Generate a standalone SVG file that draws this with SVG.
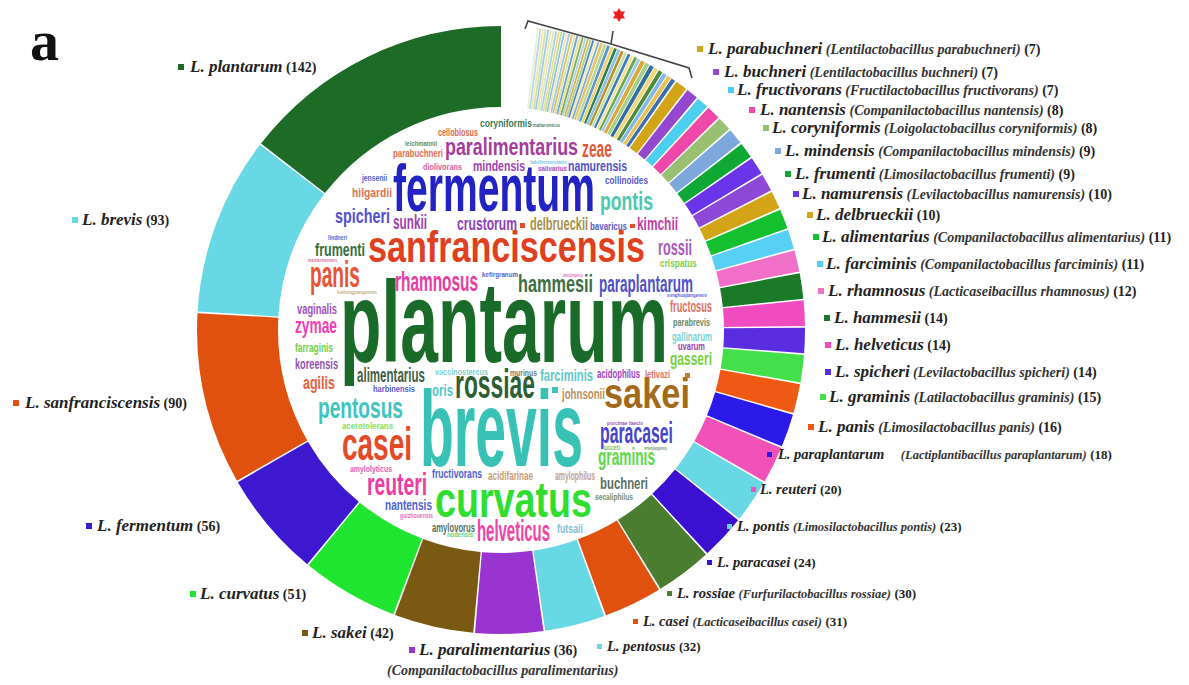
<svg xmlns="http://www.w3.org/2000/svg" width="1189" height="685" viewBox="0 0 1189 685">
<style>
.ring circle{fill:none;stroke-width:81}
.st circle{fill:none;stroke-width:81}
.ga{stroke-dasharray:3.6 2000}
.gb{stroke-dasharray:2.5 2000}
.gc{stroke-dasharray:1.8 2000}
.gd{stroke-dasharray:1.7 2000}
.w{font-family:"Liberation Sans",Arial,sans-serif;font-weight:bold}
.lg{font-family:"Liberation Serif","Times New Roman",serif;fill:#222;font-size:14px}
.sp{font-size:17px;font-weight:bold;font-style:italic}
.gn{font-size:14px;font-weight:bold;font-style:italic;fill:#333}
.ct{font-size:14px;font-weight:bold}
.sp2{font-size:14.5px;font-weight:bold;font-style:italic}
.gn2{font-size:12.5px;font-weight:bold;font-style:italic;fill:#333}
.ct2{font-size:13px;font-weight:bold}
</style>
<rect width="1189" height="685" fill="#fff"/>
<text x="30" y="60" font-family="Liberation Serif,serif" font-weight="bold" font-size="58" fill="#111">a</text>

<g id="ring" class="ring" transform="matrix(0,-1,-1,0,501,330)">
<circle r="263.5" stroke="#1d6b27" stroke-dasharray="239.63 2000" stroke-dashoffset="0"/>
<circle r="263.5" stroke="#68d8e4" stroke-dasharray="156.42 2000" stroke-dashoffset="-241.13"/>
<circle r="263.5" stroke="#e0500f" stroke-dasharray="151.33 2000" stroke-dashoffset="-399.05"/>
<circle r="263.5" stroke="#3c18d0" stroke-dasharray="93.59 2000" stroke-dashoffset="-551.87"/>
<circle r="263.5" stroke="#20e530" stroke-dasharray="85.10 2000" stroke-dashoffset="-646.96"/>
<circle r="263.5" stroke="#7a5a12" stroke-dasharray="69.82 2000" stroke-dashoffset="-733.57"/>
<circle r="263.5" stroke="#9a34d0" stroke-dasharray="59.63 2000" stroke-dashoffset="-804.89"/>
<circle r="263.5" stroke="#68d8e4" stroke-dasharray="52.84 2000" stroke-dashoffset="-866.02"/>
<circle r="263.5" stroke="#e0500f" stroke-dasharray="51.14 2000" stroke-dashoffset="-920.35"/>
<circle r="263.5" stroke="#4b7d30" stroke-dasharray="49.44 2000" stroke-dashoffset="-973.00"/>
<circle r="263.5" stroke="#3c10d0" stroke-dasharray="39.25 2000" stroke-dashoffset="-1023.94"/>
<circle r="263.5" stroke="#68d8e4" stroke-dasharray="37.56 2000" stroke-dashoffset="-1064.69"/>
<circle r="263.5" stroke="#f052b8" stroke-dasharray="32.46 2000" stroke-dashoffset="-1103.75"/>
<circle r="263.5" stroke="#2c1ae8" stroke-dasharray="29.07 2000" stroke-dashoffset="-1137.71"/>
<circle r="263.5" stroke="#ee5a14" stroke-dasharray="25.67 2000" stroke-dashoffset="-1168.27"/>
<circle r="263.5" stroke="#44e04c" stroke-dasharray="23.97 2000" stroke-dashoffset="-1195.44"/>
<circle r="263.5" stroke="#5a2ee0" stroke-dasharray="22.27 2000" stroke-dashoffset="-1220.91"/>
<circle r="263.5" stroke="#f04cc0" stroke-dasharray="22.27 2000" stroke-dashoffset="-1244.69"/>
<circle r="263.5" stroke="#1a7a28" stroke-dasharray="22.27 2000" stroke-dashoffset="-1268.46"/>
<circle r="263.5" stroke="#f070c8" stroke-dasharray="18.88 2000" stroke-dashoffset="-1292.23"/>
<circle r="263.5" stroke="#58d0f4" stroke-dasharray="17.18 2000" stroke-dashoffset="-1312.61"/>
<circle r="263.5" stroke="#14c030" stroke-dasharray="17.18 2000" stroke-dashoffset="-1331.29"/>
<circle r="263.5" stroke="#d4a418" stroke-dasharray="15.48 2000" stroke-dashoffset="-1349.97"/>
<circle r="263.5" stroke="#8e48d8" stroke-dasharray="15.48 2000" stroke-dashoffset="-1366.95"/>
<circle r="263.5" stroke="#6a34e8" stroke-dasharray="15.48 2000" stroke-dashoffset="-1383.93"/>
<circle r="263.5" stroke="#10a834" stroke-dasharray="13.78 2000" stroke-dashoffset="-1400.91"/>
<circle r="263.5" stroke="#7ea8dc" stroke-dasharray="13.78 2000" stroke-dashoffset="-1416.19"/>
<circle r="263.5" stroke="#98c070" stroke-dasharray="12.08 2000" stroke-dashoffset="-1431.47"/>
<circle r="263.5" stroke="#f048a8" stroke-dasharray="12.08 2000" stroke-dashoffset="-1445.05"/>
<circle r="263.5" stroke="#4ccff0" stroke-dasharray="10.39 2000" stroke-dashoffset="-1458.64"/>
<circle r="263.5" stroke="#9448d0" stroke-dasharray="10.39 2000" stroke-dashoffset="-1470.53"/>
<circle r="263.5" stroke="#d4a418" stroke-dasharray="10.39 2000" stroke-dashoffset="-1482.41"/>
</g>

<g id="stripes" class="st" transform="matrix(0,-1,-1,0,501,330)">
<circle r="263.5" class="ga" stroke="#3a6fb0" stroke-dashoffset="-1494.30"/>
<circle r="263.5" class="ga" stroke="#e8c04a" stroke-dashoffset="-1498.70"/>
<circle r="263.5" class="ga" stroke="#7fb8e8" stroke-dashoffset="-1503.10"/>
<circle r="263.5" class="ga" stroke="#4f8a3a" stroke-dashoffset="-1507.50"/>
<circle r="263.5" class="ga" stroke="#f2d77a" stroke-dashoffset="-1511.90"/>
<circle r="263.5" class="ga" stroke="#2f6f9f" stroke-dashoffset="-1516.30"/>
<circle r="263.5" class="ga" stroke="#a6cf8a" stroke-dashoffset="-1520.70"/>
<circle r="263.5" class="ga" stroke="#d9a93a" stroke-dashoffset="-1525.10"/>
<circle r="263.5" class="gb" stroke="#9ec8ee" stroke-dashoffset="-1529.50"/>
<circle r="263.5" class="gb" stroke="#6aa84f" stroke-dashoffset="-1532.70"/>
<circle r="263.5" class="gb" stroke="#f5e39a" stroke-dashoffset="-1535.90"/>
<circle r="263.5" class="gb" stroke="#3d7cc0" stroke-dashoffset="-1539.10"/>
<circle r="263.5" class="gb" stroke="#c5e0a5" stroke-dashoffset="-1542.30"/>
<circle r="263.5" class="gb" stroke="#b8912d" stroke-dashoffset="-1545.50"/>
<circle r="263.5" class="gb" stroke="#8cc0e8" stroke-dashoffset="-1548.70"/>
<circle r="263.5" class="gb" stroke="#2e7d4a" stroke-dashoffset="-1551.90"/>
<circle r="263.5" class="gb" stroke="#f0d070" stroke-dashoffset="-1555.10"/>
<circle r="263.5" class="gb" stroke="#5b93cf" stroke-dashoffset="-1558.30"/>
<circle r="263.5" class="gb" stroke="#b4d79a" stroke-dashoffset="-1561.50"/>
<circle r="263.5" class="gb" stroke="#e6c565" stroke-dashoffset="-1564.70"/>
<circle r="263.5" class="gc" stroke="#7aaee0" stroke-dashoffset="-1567.90"/>
<circle r="263.5" class="gc" stroke="#f7e6a8" stroke-dashoffset="-1570.30"/>
<circle r="263.5" class="gc" stroke="#4a88c8" stroke-dashoffset="-1572.70"/>
<circle r="263.5" class="gc" stroke="#a9d18e" stroke-dashoffset="-1575.10"/>
<circle r="263.5" class="gc" stroke="#d8b248" stroke-dashoffset="-1577.50"/>
<circle r="263.5" class="gc" stroke="#aed3f2" stroke-dashoffset="-1579.90"/>
<circle r="263.5" class="gc" stroke="#77ad5b" stroke-dashoffset="-1582.30"/>
<circle r="263.5" class="gc" stroke="#f3dd8a" stroke-dashoffset="-1584.70"/>
<circle r="263.5" class="gc" stroke="#6b9fd8" stroke-dashoffset="-1587.10"/>
<circle r="263.5" class="gc" stroke="#cfe6b5" stroke-dashoffset="-1589.50"/>
<circle r="263.5" class="gc" stroke="#e3bf5a" stroke-dashoffset="-1591.90"/>
<circle r="263.5" class="gc" stroke="#9fc9ef" stroke-dashoffset="-1594.30"/>
<circle r="263.5" class="gd" stroke="#f6e7b0" stroke-dashoffset="-1596.70"/>
<circle r="263.5" class="gd" stroke="#8dbde9" stroke-dashoffset="-1599.00"/>
<circle r="263.5" class="gd" stroke="#b9dca0" stroke-dashoffset="-1601.30"/>
<circle r="263.5" class="gd" stroke="#f1d98a" stroke-dashoffset="-1603.60"/>
<circle r="263.5" class="gd" stroke="#a7ccef" stroke-dashoffset="-1605.90"/>
<circle r="263.5" class="gd" stroke="#d6ebc0" stroke-dashoffset="-1608.20"/>
<circle r="263.5" class="gd" stroke="#f4e3a4" stroke-dashoffset="-1610.50"/>
<circle r="263.5" class="gd" stroke="#9cc7ee" stroke-dashoffset="-1612.80"/>
<circle r="263.5" class="gd" stroke="#c8e3b0" stroke-dashoffset="-1615.10"/>
<circle r="263.5" class="gd" stroke="#f5e6ae" stroke-dashoffset="-1617.40"/>
<circle r="263.5" class="gd" stroke="#b3d4f2" stroke-dashoffset="-1619.70"/>
<circle r="263.5" class="gd" stroke="#e9f0c8" stroke-dashoffset="-1622.00"/>
</g>

<g id="bracket">
<path d="M525 29 L528 21 L611 44 L689 68 L692 78 M611 44 L613 31" fill="none" stroke="#444" stroke-width="1.6"/>
<polygon points="619,8 621.02,11.5 625.06,11.5 623.04,15 625.06,18.5 621.02,18.5 619,22 616.98,18.5 612.94,18.5 614.96,15 612.94,11.5 616.98,11.5" fill="#e82020"/>
</g>

<g id="wordcloud" class="w">
<text x="340" y="362" font-size="115" textLength="328" lengthAdjust="spacingAndGlyphs" fill="#1a6b2a">plantarum</text>
<text x="420" y="466" font-size="108" textLength="163" lengthAdjust="spacingAndGlyphs" fill="#38c2b6">brevis</text>
<text x="393" y="211" font-size="66" textLength="202" lengthAdjust="spacingAndGlyphs" fill="#2323c4">fermentum</text>
<text x="368" y="262" font-size="45" textLength="277" lengthAdjust="spacingAndGlyphs" fill="#e0401e">sanfranciscensis</text>
<text x="435" y="517" font-size="50" textLength="157" lengthAdjust="spacingAndGlyphs" fill="#30de30">curvatus</text>
<text x="604" y="408" font-size="42" textLength="86" lengthAdjust="spacingAndGlyphs" fill="#a46a1c">sakei</text>
<text x="342" y="460" font-size="46" textLength="70" lengthAdjust="spacingAndGlyphs" fill="#e24a2a">casei</text>
<text x="455" y="398" font-size="40" textLength="80" lengthAdjust="spacingAndGlyphs" fill="#2e5e34">rossiae</text>
<text x="318" y="418" font-size="30" textLength="85" lengthAdjust="spacingAndGlyphs" fill="#40c4c0">pentosus</text>
<text x="600" y="443" font-size="30" textLength="73" lengthAdjust="spacingAndGlyphs" fill="#4646c8">paracasei</text>
<text x="445" y="155" font-size="24" textLength="133" lengthAdjust="spacingAndGlyphs" fill="#a43c9c">paralimentarius</text>
<text x="518" y="292" font-size="24" textLength="75" lengthAdjust="spacingAndGlyphs" fill="#3e6e44">hammesii</text>
<text x="599" y="292" font-size="24" textLength="94" lengthAdjust="spacingAndGlyphs" fill="#5050c8">paraplantarum</text>
<text x="395" y="291" font-size="28" textLength="83" lengthAdjust="spacingAndGlyphs" fill="#e63ca4">rhamnosus</text>
<text x="310" y="287" font-size="36" textLength="50" lengthAdjust="spacingAndGlyphs" fill="#e85434">panis</text>
<text x="600" y="210" font-size="26" textLength="53" lengthAdjust="spacingAndGlyphs" fill="#4cc8b0">pontis</text>
<text x="367" y="495" font-size="32" textLength="60" lengthAdjust="spacingAndGlyphs" fill="#f03ca0">reuteri</text>
<text x="477" y="541" font-size="30" textLength="73" lengthAdjust="spacingAndGlyphs" fill="#f044a4">helveticus</text>
<text x="582" y="157" font-size="23" textLength="30" lengthAdjust="spacingAndGlyphs" fill="#e05838">zeae</text>
<text x="598" y="465" font-size="23" textLength="57" lengthAdjust="spacingAndGlyphs" fill="#5cd84a">graminis</text>
<text x="335" y="223" font-size="21" textLength="55" lengthAdjust="spacingAndGlyphs" fill="#5050d0">spicheri</text>
<text x="393" y="229" font-size="20" textLength="34" lengthAdjust="spacingAndGlyphs" fill="#a040b0">sunkii</text>
<text x="457" y="230" font-size="19" textLength="60" lengthAdjust="spacingAndGlyphs" fill="#9040b8">crustorum</text>
<text x="530" y="230" font-size="18" textLength="58" lengthAdjust="spacingAndGlyphs" fill="#a89048">delbrueckii</text>
<text x="637" y="230" font-size="19" textLength="41" lengthAdjust="spacingAndGlyphs" fill="#c040a8">kimchii</text>
<text x="590" y="230" font-size="11" textLength="37" lengthAdjust="spacingAndGlyphs" fill="#5a5ac8">bavaricus</text>
<text x="658" y="255" font-size="22" textLength="34" lengthAdjust="spacingAndGlyphs" fill="#a858b8">rossii</text>
<text x="315" y="256" font-size="18" textLength="50" lengthAdjust="spacingAndGlyphs" fill="#356e40">frumenti</text>
<text x="295" y="333" font-size="22" textLength="42" lengthAdjust="spacingAndGlyphs" fill="#f040b0">zymae</text>
<text x="297" y="314" font-size="15" textLength="40" lengthAdjust="spacingAndGlyphs" fill="#a050c0">vaginalis</text>
<text x="295" y="352" font-size="12" textLength="38" lengthAdjust="spacingAndGlyphs" fill="#70d050">farraginis</text>
<text x="295" y="369" font-size="15" textLength="43" lengthAdjust="spacingAndGlyphs" fill="#9050b0">koreensis</text>
<text x="303" y="389" font-size="18" textLength="32" lengthAdjust="spacingAndGlyphs" fill="#e86040">agilis</text>
<text x="357" y="382" font-size="21" textLength="68" lengthAdjust="spacingAndGlyphs" fill="#3e5e44">alimentarius</text>
<text x="373" y="392" font-size="9" textLength="42" lengthAdjust="spacingAndGlyphs" fill="#5a5ad0">harbinensis</text>
<text x="432" y="396" font-size="16" textLength="21" lengthAdjust="spacingAndGlyphs" fill="#50c8c8">oris</text>
<text x="435" y="375" font-size="9" textLength="53" lengthAdjust="spacingAndGlyphs" fill="#80d0d0">vaccinostercus</text>
<text x="510" y="376" font-size="9" textLength="27" lengthAdjust="spacingAndGlyphs" fill="#708070">murinus</text>
<text x="540" y="381" font-size="17" textLength="53" lengthAdjust="spacingAndGlyphs" fill="#60c8c8">farciminis</text>
<text x="597" y="378" font-size="13" textLength="43" lengthAdjust="spacingAndGlyphs" fill="#a040c0">acidophilus</text>
<text x="645" y="378" font-size="11" textLength="25" lengthAdjust="spacingAndGlyphs" fill="#e07060">letivazi</text>
<text x="562" y="399" font-size="14" textLength="43" lengthAdjust="spacingAndGlyphs" fill="#c09060">johnsonii</text>
<text x="342" y="429" font-size="9" textLength="51" lengthAdjust="spacingAndGlyphs" fill="#80e060">acetotolerans</text>
<text x="350" y="472" font-size="9" textLength="42" lengthAdjust="spacingAndGlyphs" fill="#e060c0">amylolyticus</text>
<text x="432" y="478" font-size="13" textLength="50" lengthAdjust="spacingAndGlyphs" fill="#5060d0">fructivorans</text>
<text x="488" y="480" font-size="12" textLength="45" lengthAdjust="spacingAndGlyphs" fill="#c8a078">acidifarinae</text>
<text x="555" y="480" font-size="12" textLength="40" lengthAdjust="spacingAndGlyphs" fill="#c8a078">amylophilus</text>
<text x="600" y="489" font-size="17" textLength="48" lengthAdjust="spacingAndGlyphs" fill="#587060">buchneri</text>
<text x="595" y="500" font-size="9" textLength="38" lengthAdjust="spacingAndGlyphs" fill="#709070">secaliphilus</text>
<text x="385" y="510" font-size="15" textLength="47" lengthAdjust="spacingAndGlyphs" fill="#5060d0">nantensis</text>
<text x="400" y="518" font-size="7" textLength="33" lengthAdjust="spacingAndGlyphs" fill="#e070c0">guizhouensis</text>
<text x="432" y="532" font-size="12" textLength="43" lengthAdjust="spacingAndGlyphs" fill="#587060">amylovorus</text>
<text x="447" y="537" font-size="8" textLength="26" lengthAdjust="spacingAndGlyphs" fill="#70d070">nodensis</text>
<text x="557" y="533" font-size="13" textLength="26" lengthAdjust="spacingAndGlyphs" fill="#80c0d8">futsaii</text>
<text x="670" y="365" font-size="19" textLength="42" lengthAdjust="spacingAndGlyphs" fill="#78d040">gasseri</text>
<text x="678" y="350" font-size="10" textLength="27" lengthAdjust="spacingAndGlyphs" fill="#a040b0">uvarum</text>
<text x="672" y="341" font-size="12" textLength="40" lengthAdjust="spacingAndGlyphs" fill="#80d0d0">gallinarum</text>
<text x="673" y="326" font-size="11" textLength="37" lengthAdjust="spacingAndGlyphs" fill="#6a8a6a">parabrevis</text>
<text x="670" y="312" font-size="16" textLength="42" lengthAdjust="spacingAndGlyphs" fill="#e07060">fructosus</text>
<text x="667" y="297" font-size="6" textLength="40" lengthAdjust="spacingAndGlyphs" fill="#6060d0">songhuajiangensis</text>
<text x="337" y="294" font-size="6" textLength="40" lengthAdjust="spacingAndGlyphs" fill="#c8b080">heilongjiangensis</text>
<text x="482" y="277" font-size="7" textLength="36" lengthAdjust="spacingAndGlyphs" fill="#6060d0">kefirgranum</text>
<text x="660" y="267" font-size="11" textLength="37" lengthAdjust="spacingAndGlyphs" fill="#80d040">crispatus</text>
<text x="328" y="240" font-size="8" textLength="19" lengthAdjust="spacingAndGlyphs" fill="#6060d0">lindneri</text>
<text x="352" y="197" font-size="13" textLength="40" lengthAdjust="spacingAndGlyphs" fill="#e07050">hilgardii</text>
<text x="362" y="181" font-size="9" textLength="25" lengthAdjust="spacingAndGlyphs" fill="#5060d0">jensenii</text>
<text x="605" y="184" font-size="11" textLength="43" lengthAdjust="spacingAndGlyphs" fill="#5a5ad0">collinoides</text>
<text x="568" y="171" font-size="14" textLength="59" lengthAdjust="spacingAndGlyphs" fill="#5050c8">namurensis</text>
<text x="538" y="171" font-size="8" textLength="29" lengthAdjust="spacingAndGlyphs" fill="#a050c0">salivarius</text>
<text x="473" y="171" font-size="15" textLength="52" lengthAdjust="spacingAndGlyphs" fill="#a040b0">mindensis</text>
<text x="423" y="170" font-size="9" textLength="39" lengthAdjust="spacingAndGlyphs" fill="#e060a0">diolivorans</text>
<text x="393" y="157" font-size="11" textLength="50" lengthAdjust="spacingAndGlyphs" fill="#e07050">parabuchneri</text>
<text x="405" y="146" font-size="7" textLength="32" lengthAdjust="spacingAndGlyphs" fill="#50906a">leichmannii</text>
<text x="438" y="136" font-size="10" textLength="40" lengthAdjust="spacingAndGlyphs" fill="#e06848">cellobiosus</text>
<text x="480" y="127" font-size="11" textLength="52" lengthAdjust="spacingAndGlyphs" fill="#3e7a5a">coryniformis</text>
<text x="533" y="127" font-size="6" textLength="27" lengthAdjust="spacingAndGlyphs" fill="#50806a">maltaromicus</text>
<text x="530" y="164" font-size="6" textLength="37" lengthAdjust="spacingAndGlyphs" fill="#80c8e0">fabifermentans</text>
<text x="563" y="277" font-size="6" textLength="20" lengthAdjust="spacingAndGlyphs" fill="#e070c0">zhaodongensis</text>
<text x="308" y="262" font-size="6" textLength="29" lengthAdjust="spacingAndGlyphs" fill="#e070a0">malefermentans</text>
<text x="607" y="425" font-size="6" textLength="36" lengthAdjust="spacingAndGlyphs" fill="#a050c0">porcinae faecis</text>
<text x="603" y="450" font-size="7" textLength="17" lengthAdjust="spacingAndGlyphs" fill="#80c060">tucceti</text>
<text x="647" y="450" font-size="6" textLength="20" lengthAdjust="spacingAndGlyphs" fill="#709070">nenjiangensis</text>
<rect x="520" y="223" width="5" height="5" fill="#e05030"/>
<rect x="630" y="224" width="5" height="4" fill="#e05030"/>
<rect x="685" y="373" width="5" height="5" fill="#c08030"/>
<rect x="552" y="387" width="6" height="6" fill="#40c0c0"/>
</g>

<g id="legend" class="lg">
<g id="lg-plantarum"><rect x="178" y="64" width="6" height="6" fill="#1d6b27"/><text x="190" y="72"><tspan class="sp">L. plantarum</tspan> <tspan class="ct">(142)</tspan></text></g>
<g id="lg-brevis"><rect x="72" y="217" width="6" height="6" fill="#68d8e4"/><text x="82" y="225"><tspan class="sp">L. brevis</tspan> <tspan class="ct">(93)</tspan></text></g>
<g id="lg-sanfranciscensis"><rect x="13" y="400" width="6" height="6" fill="#e0500f"/><text x="25" y="408"><tspan class="sp">L. sanfranciscensis</tspan> <tspan class="ct">(90)</tspan></text></g>
<g id="lg-fermentum"><rect x="86" y="523" width="6" height="6" fill="#3c18d0"/><text x="97" y="531"><tspan class="sp">L. fermentum</tspan> <tspan class="ct">(56)</tspan></text></g>
<g id="lg-curvatus"><rect x="190" y="591" width="6" height="6" fill="#20e530"/><text x="200" y="599"><tspan class="sp">L. curvatus</tspan> <tspan class="ct">(51)</tspan></text></g>
<g id="lg-sakei"><rect x="302" y="630" width="6" height="6" fill="#7a5a12"/><text x="312" y="638"><tspan class="sp">L. sakei</tspan> <tspan class="ct">(42)</tspan></text></g>
<g id="lg-paralimentarius"><rect x="409" y="647" width="6" height="6" fill="#9a34d0"/><text x="419" y="655"><tspan class="sp">L. paralimentarius</tspan> <tspan class="ct">(36)</tspan></text><text x="387" y="675" class="gn">(Companilactobacillus paralimentarius)</text></g>

<g id="lg-parabuchneri"><rect x="697" y="46" width="6" height="6" fill="#d4a418"/><text x="708" y="54"><tspan class="sp">L. parabuchneri</tspan> <tspan class="gn">(Lentilactobacillus parabuchneri)</tspan> <tspan class="ct">(7)</tspan></text></g>
<g id="lg-buchneri"><rect x="713" y="69" width="6" height="6" fill="#9448d0"/><text x="724" y="77"><tspan class="sp">L. buchneri</tspan> <tspan class="gn">(Lentilactobacillus buchneri)</tspan> <tspan class="ct">(7)</tspan></text></g>
<g id="lg-fructivorans"><rect x="728" y="87" width="6" height="6" fill="#4ccff0"/><text x="737" y="95"><tspan class="sp">L. fructivorans</tspan> <tspan class="gn">(Fructilactobacillus fructivorans)</tspan> <tspan class="ct">(7)</tspan></text></g>
<g id="lg-nantensis"><rect x="749" y="107" width="6" height="6" fill="#f048a8"/><text x="760" y="115"><tspan class="sp">L. nantensis</tspan> <tspan class="gn">(Companilactobacillus nantensis)</tspan> <tspan class="ct">(8)</tspan></text></g>
<g id="lg-coryniformis"><rect x="763" y="125" width="6" height="6" fill="#98c070"/><text x="772" y="133"><tspan class="sp">L. coryniformis</tspan> <tspan class="gn">(Loigolactobacillus coryniformis)</tspan> <tspan class="ct">(8)</tspan></text></g>
<g id="lg-mindensis"><rect x="775" y="148" width="6" height="6" fill="#7ea8dc"/><text x="785" y="156"><tspan class="sp">L. mindensis</tspan> <tspan class="gn">(Companilactobacillus mindensis)</tspan> <tspan class="ct">(9)</tspan></text></g>
<g id="lg-frumenti"><rect x="785" y="171" width="6" height="6" fill="#10a834"/><text x="795" y="179"><tspan class="sp">L. frumenti</tspan> <tspan class="gn">(Limosilactobacillus frumenti)</tspan> <tspan class="ct">(9)</tspan></text></g>
<g id="lg-namurensis"><rect x="793" y="191" width="6" height="6" fill="#6a34e8"/><text x="802" y="199"><tspan class="sp">L. namurensis</tspan> <tspan class="gn">(Levilactobacillus namurensis)</tspan> <tspan class="ct">(10)</tspan></text></g>
<g id="lg-delbrueckii"><rect x="807" y="212" width="6" height="6" fill="#d4a418"/><text x="816" y="220"><tspan class="sp">L. delbrueckii</tspan> <tspan class="ct">(10)</tspan></text></g>
<g id="lg-alimentarius"><rect x="813" y="234" width="6" height="6" fill="#14c030"/><text x="822" y="242"><tspan class="sp">L. alimentarius</tspan> <tspan class="gn">(Companilactobacillus alimentarius)</tspan> <tspan class="ct">(11)</tspan></text></g>
<g id="lg-farciminis"><rect x="817" y="261" width="6" height="6" fill="#58d0f4"/><text x="826" y="269"><tspan class="sp">L. farciminis</tspan> <tspan class="gn">(Companilactobacillus farciminis)</tspan> <tspan class="ct">(11)</tspan></text></g>
<g id="lg-rhamnosus"><rect x="818" y="288" width="6" height="6" fill="#f070c8"/><text x="828" y="296"><tspan class="sp">L. rhamnosus</tspan> <tspan class="gn">(Lacticaseibacillus rhamnosus)</tspan> <tspan class="ct">(12)</tspan></text></g>
<g id="lg-hammesii"><rect x="824" y="315" width="6" height="6" fill="#1a7a28"/><text x="834" y="323"><tspan class="sp">L. hammesii</tspan> <tspan class="ct">(14)</tspan></text></g>
<g id="lg-helveticus"><rect x="825" y="342" width="6" height="6" fill="#f04cc0"/><text x="835" y="350"><tspan class="sp">L. helveticus</tspan> <tspan class="ct">(14)</tspan></text></g>
<g id="lg-spicheri"><rect x="825" y="369" width="6" height="6" fill="#5a2ee0"/><text x="835" y="377"><tspan class="sp">L. spicheri</tspan> <tspan class="gn">(Levilactobacillus spicheri)</tspan> <tspan class="ct">(14)</tspan></text></g>
<g id="lg-graminis"><rect x="820" y="394" width="6" height="6" fill="#44e04c"/><text x="829" y="402"><tspan class="sp">L. graminis</tspan> <tspan class="gn">(Latilactobacillus graminis)</tspan> <tspan class="ct">(15)</tspan></text></g>
<g id="lg-panis"><rect x="808" y="424" width="6" height="6" fill="#ee5a14"/><text x="818" y="432"><tspan class="sp">L. panis</tspan> <tspan class="gn">(Limosilactobacillus panis)</tspan> <tspan class="ct">(16)</tspan></text></g>
<g id="lg-paraplantarum"><rect x="767" y="452" width="5" height="5" fill="#2c1ae8"/><text x="778" y="459"><tspan class="sp2">L. paraplantarum</tspan> <tspan class="gn2" dx="13">(Lactiplantibacillus paraplantarum)</tspan> <tspan class="ct2">(18)</tspan></text></g>
<g id="lg-reuteri"><rect x="751" y="487" width="5" height="5" fill="#f052b8"/><text x="760" y="494"><tspan class="sp2">L. reuteri</tspan> <tspan class="ct2">(20)</tspan></text></g>
<g id="lg-pontis"><rect x="727" y="524" width="5" height="5" fill="#68d8e4"/><text x="737" y="531"><tspan class="sp2">L. pontis</tspan> <tspan class="gn2">(Limosilactobacillus pontis)</tspan> <tspan class="ct2">(23)</tspan></text></g>
<g id="lg-paracasei"><rect x="707" y="560" width="5" height="5" fill="#3c10d0"/><text x="717" y="567"><tspan class="sp2">L. paracasei</tspan> <tspan class="ct2">(24)</tspan></text></g>
<g id="lg-rossiae"><rect x="667" y="591" width="5" height="5" fill="#4b7d30"/><text x="677" y="598"><tspan class="sp2">L. rossiae</tspan> <tspan class="gn2">(Furfurilactobacillus rossiae)</tspan> <tspan class="ct2">(30)</tspan></text></g>
<g id="lg-casei"><rect x="633" y="619" width="5" height="5" fill="#e0500f"/><text x="643" y="626"><tspan class="sp2">L. casei</tspan> <tspan class="gn2">(Lacticaseibacillus casei)</tspan> <tspan class="ct2">(31)</tspan></text></g>
<g id="lg-pentosus"><rect x="597" y="644" width="5" height="5" fill="#68d8e4"/><text x="607" y="651"><tspan class="sp2">L. pentosus</tspan> <tspan class="ct2">(32)</tspan></text></g>
</g>
</svg>
